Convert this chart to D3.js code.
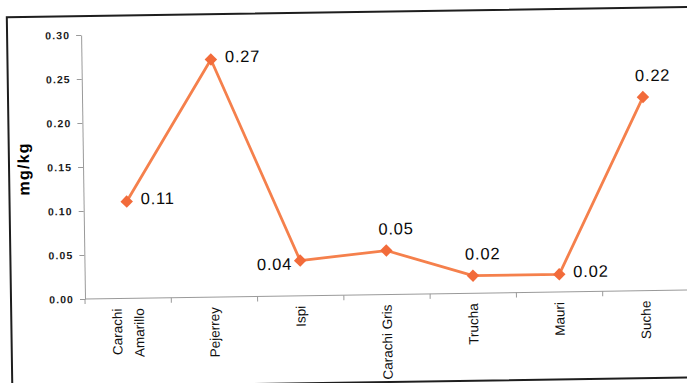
<!DOCTYPE html>
<html>
<head>
<meta charset="utf-8">
<script src="https://cdn.jsdelivr.net/npm/d3@7/dist/d3.min.js"></script>
<style>
  html, body { margin: 0; padding: 0; background: #fff; }
  svg { display: block; }
  text { font-family: "Liberation Sans", Arial, sans-serif; }
</style>
</head>
<body>
<svg id="chart" width="687" height="383"></svg>
<script>
// Mercury content by fish species (mg/kg)
const categories = ["Carachi Amarillo", "Pejerrey", "Ispi", "Carachi Gris", "Trucha", "Mauri", "Suche"];
const tickLabels = ["Carachi\nAmarillo", "Pejerrey", "Ispi", "Carachi Gris", "Trucha", "Mauri", "Suche"];
const values = [0.11, 0.27, 0.04, 0.05, 0.02, 0.02, 0.22];
const labelSide = ["right", "right", "left", "above", "above", "right", "above"];
const yTicks = [0.00, 0.05, 0.10, 0.15, 0.20, 0.25, 0.30];
const yTitle = "mg/kg";

const W = 687, H = 383;
const x0 = 85, x1 = 689, yBase = 299, yTop = 35;
const lineColor = "#f5804c", markColor = "#f26b3a", axisColor = "#9a9a9a";

const svg = d3.select("#chart");
svg.append("rect").attr("width", W).attr("height", H).attr("fill", "#fff");

// the whole sheet sits slightly tilted
const g = svg.append("g").attr("transform", `rotate(-0.85, ${x0}, ${yBase})`);

// outer chart frame
g.append("path")
  .attr("d", `M11,388 L11,16 L700,16 M11,386.5 L700,386.5`)
  .attr("fill", "none").attr("stroke", "#1e1e1e").attr("stroke-width", 2);

const x = d3.scaleBand().domain(categories).range([x0, x1]).padding(0);
const y = d3.scaleLinear().domain([0, 0.30]).range([yBase, yTop]);

// y axis
const yAxis = g.append("g").attr("transform", `translate(${x0},0)`)
  .call(d3.axisLeft(y).tickValues(yTicks).tickFormat(d3.format(".2f"))
        .tickSize(5).tickSizeOuter(0).tickPadding(6));
yAxis.select(".domain").attr("stroke", axisColor);
yAxis.selectAll(".tick line").attr("stroke", axisColor);
yAxis.selectAll(".tick text")
  .attr("fill", "#1a1a1a").style("font-size", "10.5px")
  .style("letter-spacing", "1.1px").style("font-weight", "bold");

// y axis title
g.append("text")
  .attr("transform", `translate(31,168) rotate(-90)`)
  .attr("text-anchor", "middle")
  .style("font-size", "16px").style("font-weight", "bold")
  .style("letter-spacing", "1.2px").attr("fill", "#000")
  .text(yTitle);

// x axis: line, category boundary ticks, labels
g.append("line").attr("x1", x0).attr("x2", x1).attr("y1", yBase).attr("y2", yBase)
  .attr("stroke", axisColor);
const bounds = categories.map(c => x(c)).concat([x.range()[1]]);
g.selectAll(".xtick").data(bounds).join("line").attr("class", "xtick")
  .attr("x1", d => d).attr("x2", d => d)
  .attr("y1", yBase).attr("y2", yBase + 5)
  .attr("stroke", axisColor);

const xl = g.selectAll(".xlabel").data(categories).join("text").attr("class", "xlabel")
  .attr("text-anchor", "end")
  .attr("fill", "#111").style("font-size", "13.5px")
  .attr("transform", d => `translate(${x(d) + x.bandwidth() / 2},${yBase + 10}) rotate(-90)`);
xl.each(function (d, i) {
  const lines = tickLabels[i].split("\n");
  const n = lines.length;
  d3.select(this).selectAll("tspan").data(lines).join("tspan")
    .attr("x", 0)
    .attr("y", (l, j) => 4.5 + (j - (n - 1) / 2) * 22)
    .text(l => l);
});

// series line
const line = d3.line()
  .x((d, i) => x(categories[i]) + x.bandwidth() / 2)
  .y(d => y(d));
g.append("path").datum(values)
  .attr("d", line).attr("fill", "none")
  .attr("stroke", lineColor).attr("stroke-width", 2.8)
  .attr("stroke-linejoin", "round");

// diamond markers
const diamond = d3.symbol(d3.symbolSquare, 78);
g.selectAll(".mark").data(values).join("path").attr("class", "mark")
  .attr("d", diamond)
  .attr("transform", (d, i) => `translate(${x(categories[i]) + x.bandwidth() / 2},${y(d)}) rotate(45)`)
  .attr("fill", markColor);

// value labels
const fmt = d3.format(".2f");
g.selectAll(".vlabel").data(values).join("text").attr("class", "vlabel")
  .style("font-size", "16.5px").style("letter-spacing", "0.8px").attr("fill", "#0a0a0a")
  .each(function (d, i) {
    const cx = x(categories[i]) + x.bandwidth() / 2, cy = y(d);
    const t = d3.select(this);
    const side = labelSide[i];
    if (side === "right") {
      t.attr("x", cx + 14).attr("y", cy + 3).attr("text-anchor", "start");
    } else if (side === "left") {
      t.attr("x", cx - 8).attr("y", cy + 9).attr("text-anchor", "end");
    } else {
      t.attr("x", cx + 10).attr("y", cy - 16).attr("text-anchor", "middle");
    }
    t.text(fmt(d));
  });
</script>
</body>
</html>
